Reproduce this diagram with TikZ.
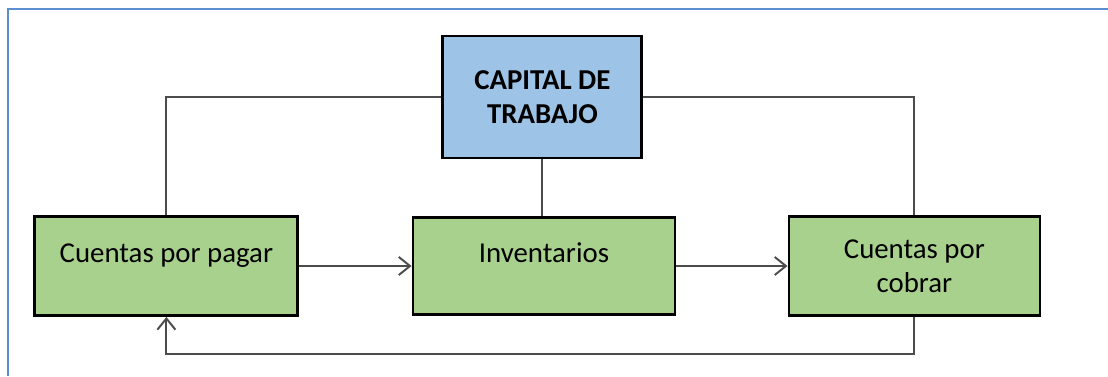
\documentclass[tikz,border=0pt]{standalone}
\usepackage{fontspec}
\setmainfont{Carlito}
\usepackage{tikz}
\usetikzlibrary{positioning}
\usetikzlibrary{arrows.meta}
\definecolor{azulcaja}{HTML}{9DC3E6}
\definecolor{verdecaja}{HTML}{A9D18E}
\definecolor{azulmarco}{HTML}{5B8FD0}
\tikzset{
caja/.style=
    { % Sets the properties for each box
        draw=black,
        line width=2pt,
        fill=verdecaja,
        align=center,
        font=\fontsize{20.5}{24}\selectfont
    },
    capital/.style={caja, fill=azulcaja, font=\fontsize{20.5}{24}\selectfont\bfseries},
    arriba/.style={text height=0.5cm, text depth=0.68cm}, % Moves one-line text to the upper half
    linea/.style={ % Sets the properties for each connector
        draw=black!70,
        line width=1.4pt
    },
    flecha/.style={linea, -{Straight Barb[length=2.8mm,width=4.5mm]}} % Open arrow heads
}
\begin{document}
\begin{tikzpicture}
\useasboundingbox (0,0) rectangle (27.7,9.4);
\draw[azulmarco, line width=1.5pt] (0.2,0) -- (0.2,9.175) -- (27.7,9.175);

\node [capital,minimum width=4.975cm,minimum height=3.05cm] (cap) at (13.56,6.975) {CAPITAL DE\\TRABAJO};
\node [caja,arriba,minimum width=6.575cm,minimum height=2.475cm] (pagar) at (4.16,2.75) {Cuentas por pagar};
\node [caja,arriba,minimum width=6.55cm,minimum height=2.425cm] (inv) at (13.6,2.75) {Inventarios};
\node [caja,minimum width=6.275cm,minimum height=2.475cm] (cobrar) at (22.86,2.75) {Cuentas por\\cobrar};

\draw[linea] (cap.west) -| (pagar.north);
\draw[linea] (cap.east) -| (cobrar.north);
\draw[linea] (cap.south) -- (cap.south |- inv.north);

\draw[flecha] (pagar.east) -- (inv.west);
\draw[flecha] (inv.east) -- (cobrar.west);
\draw[flecha] (cobrar.south) -- ++(0,-0.925) -| (pagar.south);
\end{tikzpicture}
\end{document}
